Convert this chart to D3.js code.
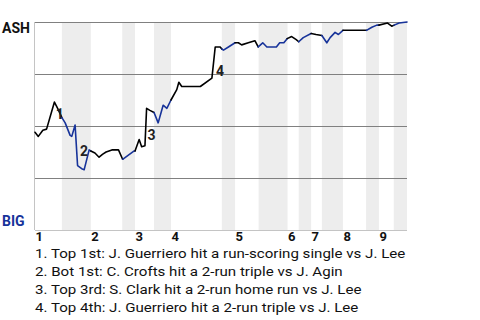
<!DOCTYPE html>
<html lang="en">
<head>
<meta charset="utf-8">
<title>Win Probability</title>
<script src="https://d3js.org/d3.v7.min.js"></script>
<style>
  body { margin: 0; background: #fff; }
  svg { font-family: Roboto, "Noto Sans", sans-serif; }
</style>
</head>
<body>
<svg width="480" height="320"></svg>
<script>
  const awayTeam = "ASH";
  const homeTeam = "BIG";
  const innings = ["1", "2", "3", "4", "5", "6", "7", "8", "9"];
  // play index where each half-inning begins (top 1st, bot 1st, top 2nd, ...)
  const halfStarts = [0, 6.5, 13.5, 21.1, 24.2, 28.8, 32.9, 45.2, 48.4, 54.1,
                      61.1, 63.8, 66.8, 69.4, 74.5, 80.1, 83.2, 86.8];
  const totalPlays = 90;

  const playIdx = [0, 0.8, 1.9, 2.8, 4.7, 5.6, 6.5, 7.3, 8.5, 8.9, 9.7, 10.3, 11.3, 11.9, 13.1,
                   13.5, 14.5, 15.5, 16.4, 17.2, 18.6, 20.2, 21.2, 22.6, 24.0, 24.2, 25.2, 25.8,
                   26.6, 27.0, 27.8, 28.8, 29.8, 31.0, 31.9, 32.9, 34.3, 34.8, 35.5, 40.0, 42.8,
                   43.6, 44.8, 45.2, 45.6, 46.8, 48.4, 49.2, 50.0, 51.6, 53.2, 54.0, 55.1, 56.1,
                   58.4, 59.2, 60.2, 61.0, 62.1, 63.2, 63.8, 64.9, 66.8, 68.0, 69.4, 70.6, 71.4,
                   72.6, 73.4, 74.5, 80.2, 81.5, 82.7, 83.2, 85.3, 86.3, 86.9, 88.1, 90];
  // ASH win probability (%)
  const ashWp = [47, 45, 48, 48.5, 61.5, 58, 54, 51.5, 45.5, 45, 50.5, 31, 29.5, 29, 38.5,
                 38, 37, 35, 36.5, 37.5, 38.5, 38.5, 34, 36, 38, 38, 43.5, 40,
                 40.5, 58.5, 57.5, 56.5, 51.5, 60, 58.5, 62.5, 67.5, 71, 69, 69, 73,
                 88, 88, 87, 86.5, 88, 90, 90, 89, 90, 91, 88, 90, 88,
                 88, 90, 90, 92, 93, 91.5, 90.5, 92.5, 94.5, 94, 93.5, 90, 92.5,
                 95, 94, 96, 96, 97.5, 98.5, 98.5, 99.5, 98, 98.5, 99.5, 100];

  const eventLabels = ["1", "2", "3", "4"];
  const eventIdx = [5.0, 10.9, 27.2, 43.8];
  const eventWp = [53.4, 35.6, 43.3, 74.0];
  const eventText = [
    "1. Top 1st: J. Guerriero hit a run-scoring single vs J. Lee",
    "2. Bot 1st: C. Crofts hit a 2-run triple vs J. Agin",
    "3. Top 3rd: S. Clark hit a 2-run home run vs J. Lee",
    "4. Top 4th: J. Guerriero hit a 2-run triple vs J. Lee"
  ];
  const gridWp = [25, 50, 75, 100];

  const svg = d3.select("svg");
  const margin = { top: 22, right: 73, bottom: 90, left: 35 };
  const width = 480 - margin.left - margin.right;
  const height = 320 - margin.top - margin.bottom;

  const x = d3.scaleLinear().domain([0, totalPlays]).range([margin.left, margin.left + width]);
  const y = d3.scaleLinear().domain([0, 100]).range([margin.top + height, margin.top]);

  const blue = "#17339a";

  // bottom-half shading
  const halfEnds = halfStarts.slice(1).concat([totalPlays]);
  svg.append("g")
    .selectAll("rect")
    .data(halfStarts.map((s, i) => ({ s, e: halfEnds[i], bottom: i % 2 === 1 })).filter(d => d.bottom))
    .join("rect")
    .attr("x", d => x(d.s))
    .attr("width", d => x(d.e) - x(d.s))
    .attr("y", y(100))
    .attr("height", y(0) - y(100))
    .attr("fill", "#ededed");

  svg.append("g")
    .selectAll("line")
    .data(gridWp)
    .join("line")
    .attr("x1", x(0)).attr("x2", x(totalPlays))
    .attr("y1", d => y(d) + 0.5).attr("y2", d => y(d) + 0.5)
    .attr("stroke", "#808080");

  svg.append("line")
    .attr("x1", x(0)).attr("x2", x(totalPlays))
    .attr("y1", y(0) + 0.5).attr("y2", y(0) + 0.5)
    .attr("stroke", "#c4c4c4");
  svg.append("line")
    .attr("x1", x(0) - 0.5).attr("x2", x(0) - 0.5)
    .attr("y1", y(100)).attr("y2", y(0))
    .attr("stroke", "#c4c4c4");

  // win probability line, coloured by half-inning
  function halfOf(p) {
    let h = 0;
    halfStarts.forEach((s, i) => { if (p >= s) h = i; });
    return h;
  }
  const pts = playIdx.map((p, i) => [p, ashWp[i]]);
  const groups = [];
  for (let i = 1; i < pts.length; i++) {
    const bottom = halfOf((pts[i - 1][0] + pts[i][0]) / 2) % 2 === 1;
    const last = groups[groups.length - 1];
    if (last && last.bottom === bottom) last.pts.push(pts[i]);
    else groups.push({ bottom, pts: [pts[i - 1], pts[i]] });
  }
  const line = d3.line().x(d => x(d[0])).y(d => y(d[1]));
  svg.append("g")
    .selectAll("path")
    .data(groups)
    .join("path")
    .attr("d", d => line(d.pts))
    .attr("fill", "none")
    .attr("stroke", d => d.bottom ? blue : "#000")
    .attr("stroke-width", 1.6)
    .attr("stroke-linejoin", "round")
    .attr("stroke-linecap", "round");

  svg.append("g")
    .selectAll("text")
    .data(eventLabels)
    .join("text")
    .attr("x", (d, i) => x(eventIdx[i]))
    .attr("y", (d, i) => y(eventWp[i]))
    .attr("font-size", 14)
    .attr("font-weight", "bold")
    .attr("fill", "#222")
    .text(d => d);

  // team labels
  svg.append("text").attr("x", 2).attr("y", 33)
    .attr("font-size", 14).attr("font-weight", "bold").attr("fill", "#111")
    .text(awayTeam);
  svg.append("text").attr("x", 2).attr("y", 226)
    .attr("font-size", 14).attr("font-weight", "bold").attr("fill", blue)
    .text(homeTeam);

  // inning labels
  svg.append("g")
    .selectAll("text")
    .data(innings)
    .join("text")
    .attr("x", (d, i) => x(halfStarts[i * 2]) + 0.5)
    .attr("y", 241)
    .attr("font-size", 13)
    .attr("font-weight", "bold")
    .attr("fill", "#111")
    .text(d => d);

  // play descriptions, drawn a little wide like the original
  svg.append("g")
    .attr("transform", "translate(35,0) scale(1.18,1)")
    .selectAll("text")
    .data(eventText)
    .join("text")
    .attr("x", 0)
    .attr("y", (d, i) => 258.5 + i * 18)
    .attr("font-size", 12.8)
    .attr("fill", "#111")
    .text(d => d);
</script>
</body>
</html>
